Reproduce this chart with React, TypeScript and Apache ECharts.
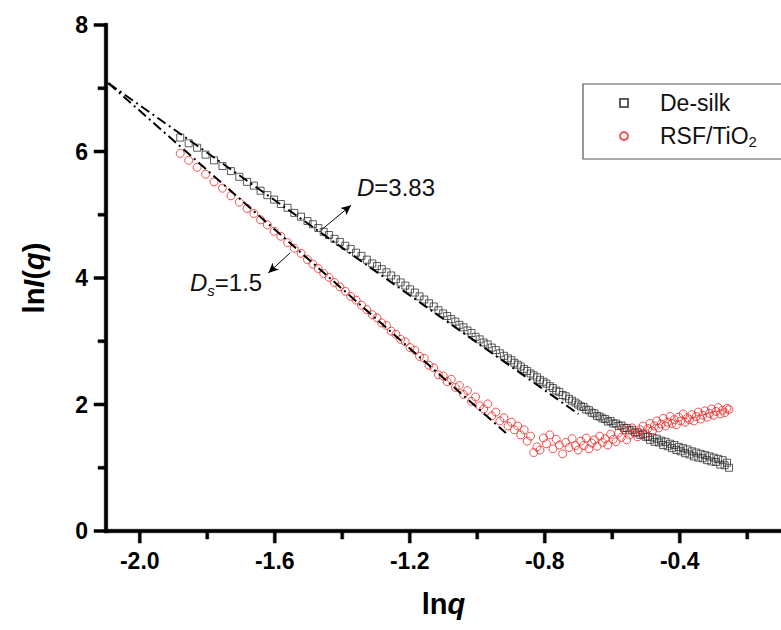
import React, { useEffect, useRef } from "react";
import * as echarts from "echarts";

// ln q grid (shared by both samples)
const lnq = [
  -1.880, -1.855, -1.830, -1.805, -1.780, -1.755, -1.730, -1.705,
  -1.682, -1.662, -1.642, -1.622, -1.602, -1.582, -1.562, -1.542, -1.522, -1.503,
  -1.487, -1.471, -1.455, -1.439, -1.423, -1.407, -1.391, -1.375, -1.359, -1.343, -1.327, -1.311,
  -1.297, -1.283, -1.269, -1.255, -1.241, -1.227, -1.213, -1.199, -1.185, -1.171, -1.157, -1.143, -1.129, -1.115, -1.101,
  -1.089, -1.077, -1.065, -1.053, -1.041, -1.029, -1.017, -1.005, -0.993, -0.981, -0.969, -0.957, -0.945, -0.933, -0.921, -0.909,
  -0.899, -0.890, -0.880, -0.871, -0.861, -0.852, -0.842, -0.833, -0.823, -0.814, -0.804, -0.795, -0.785, -0.776, -0.766, -0.757, -0.747, -0.738, -0.728, -0.719, -0.709,
  -0.701, -0.693, -0.685, -0.677, -0.669, -0.661, -0.653, -0.645, -0.637, -0.629, -0.621, -0.613, -0.605, -0.597, -0.589, -0.581, -0.573, -0.565, -0.557, -0.549, -0.541, -0.533, -0.525, -0.517, -0.509, -0.501,
  -0.494, -0.488, -0.481, -0.475, -0.468, -0.462, -0.455, -0.449, -0.442, -0.436, -0.429, -0.423, -0.416, -0.410, -0.403, -0.397, -0.390, -0.384, -0.377, -0.371, -0.364, -0.358, -0.351, -0.345, -0.338, -0.332, -0.325, -0.319, -0.312, -0.306, -0.299, -0.293, -0.286, -0.280, -0.273, -0.267, -0.260, -0.254,
];

// ln I(q) of De-silk
const deSilk = [
  6.22, 6.13, 6.06, 5.95, 5.86, 5.77, 5.69, 5.60,
  5.52, 5.46, 5.38, 5.31, 5.24, 5.17, 5.11, 5.03, 4.97, 4.90,
  4.85, 4.79, 4.73, 4.68, 4.62, 4.57, 4.51, 4.46, 4.40, 4.35, 4.29, 4.23,
  4.19, 4.14, 4.09, 4.04, 3.98, 3.93, 3.88, 3.82, 3.77, 3.71, 3.66, 3.60, 3.55, 3.49, 3.44,
  3.40, 3.35, 3.31, 3.26, 3.22, 3.17, 3.13, 3.07, 3.03, 2.98, 2.95, 2.90, 2.86, 2.81, 2.77, 2.73,
  2.70, 2.66, 2.63, 2.60, 2.56, 2.53, 2.49, 2.46, 2.43, 2.39, 2.36, 2.33, 2.29, 2.26, 2.22, 2.20, 2.15, 2.13, 2.09, 2.06, 2.03,
  2.00, 1.97, 1.96, 1.92, 1.91, 1.87, 1.86, 1.82, 1.81, 1.78, 1.77, 1.73, 1.74, 1.70, 1.70, 1.66, 1.67, 1.63, 1.63, 1.59, 1.60, 1.56, 1.56, 1.52, 1.53, 1.49,
  1.49, 1.44, 1.48, 1.41, 1.46, 1.40, 1.43, 1.36, 1.41, 1.34, 1.38, 1.31, 1.36, 1.28, 1.33, 1.26, 1.31, 1.23, 1.29, 1.21, 1.26, 1.18, 1.24, 1.16, 1.22, 1.15, 1.20, 1.12, 1.18, 1.10, 1.16, 1.09, 1.14, 1.05, 1.12, 1.04, 1.08, 1.00,
];

// ln I(q) of RSF/TiO2
const rsfTiO2 = [
  5.97, 5.86, 5.75, 5.64, 5.52, 5.42, 5.30, 5.20,
  5.10, 5.02, 4.92, 4.84, 4.74, 4.66, 4.56, 4.47, 4.39, 4.29,
  4.22, 4.15, 4.07, 4.01, 3.93, 3.86, 3.79, 3.71, 3.65, 3.57, 3.50, 3.42,
  3.37, 3.29, 3.25, 3.16, 3.11, 3.03, 2.99, 2.90, 2.86, 2.76, 2.73, 2.62, 2.58, 2.47, 2.45,
  2.36, 2.40, 2.27, 2.30, 2.16, 2.22, 2.05, 2.12, 1.98, 1.93, 2.01, 1.82, 1.88, 1.74, 1.79, 1.66,
  1.72, 1.60, 1.66, 1.52, 1.60, 1.42, 1.50, 1.24, 1.33, 1.28, 1.47, 1.38, 1.52, 1.30, 1.45, 1.36, 1.22, 1.40, 1.32, 1.46, 1.35,
  1.28, 1.42, 1.35, 1.47, 1.30, 1.39, 1.44, 1.34, 1.50, 1.40, 1.46, 1.36, 1.53, 1.45, 1.41, 1.55, 1.48, 1.60, 1.44, 1.52, 1.63, 1.55, 1.49, 1.60, 1.66, 1.54,
  1.62, 1.70, 1.58, 1.66, 1.74, 1.63, 1.69, 1.78, 1.66, 1.72, 1.81, 1.70, 1.76, 1.68, 1.80, 1.74, 1.85, 1.72, 1.79, 1.76, 1.84, 1.74, 1.81, 1.88, 1.77, 1.83, 1.90, 1.80, 1.86, 1.93, 1.83, 1.89, 1.95, 1.85, 1.91, 1.87, 1.94, 1.92,
];

// fitted straight lines (end points)
const fitDeSilk = [[-2.093, 7.08], [-0.70, 1.85]];
const fitRsf = [[-2.093, 7.08], [-0.915, 1.55]];

// annotation arrows: [from, to]
const arrowD = [[-1.462, 4.76], [-1.374, 5.15]];
const arrowDs = [[-1.554, 4.40], [-1.619, 4.08]];

// axis ranges and ticks
const X_MIN = -2.1;
const X_MAX = -0.1;
const Y_MIN = 0;
const Y_MAX = 8;
const xMajorTicks = [-2.0, -1.6, -1.2, -0.8, -0.4];
const xMinorTicks = [-1.8, -1.4, -1.0, -0.6, -0.2];
const yMajorTicks = [0, 2, 4, 6, 8];
const yMinorTicks = [1, 3, 5, 7];

const FONT = "'Liberation Sans', Arial, Helvetica, sans-serif";

export default function App() {
  const ref = useRef<HTMLDivElement>(null);

  useEffect(() => {
    if (!ref.current) return;
    const chart = echarts.init(ref.current, null, { renderer: "svg" });

    const texts: any[] = [
      {
        type: "text",
        left: 357,
        top: 175,
        z: 10,
        style: {
          text: "{i|D}{n|=3.83}",
          rich: {
            i: { fontFamily: FONT, fontSize: 24, fontStyle: "italic", fill: "#111" },
            n: { fontFamily: FONT, fontSize: 24, fill: "#111" },
          },
        },
      },
      {
        type: "text",
        left: 190,
        top: 269,
        z: 10,
        style: {
          text: "{i|D}{s|s}{n|=1.5}",
          rich: {
            i: { fontFamily: FONT, fontSize: 24, fontStyle: "italic", fill: "#111", lineHeight: 28, verticalAlign: "top" },
            s: { fontFamily: FONT, fontSize: 15, fontStyle: "italic", fill: "#111", lineHeight: 28, verticalAlign: "bottom", padding: [14, 0, 0, 0] },
            n: { fontFamily: FONT, fontSize: 24, fill: "#111", lineHeight: 28, verticalAlign: "top" },
          },
        },
      },
    ];

    const option: any = {
      animation: false,
      backgroundColor: "#ffffff",
      textStyle: { fontFamily: FONT },
      grid: { left: 106, top: 25, width: 678, height: 506 },
      legend: {
        data: ["De-silk", "RSF/TiO2"],
        orient: "vertical",
        left: 583,
        top: 84,
        itemWidth: 8,
        itemHeight: 8,
        itemGap: 6,
        padding: [6, 50, 10, 36],
        borderColor: "#555",
        borderWidth: 1.2,
        textStyle: {
          fontFamily: FONT,
          fontSize: 23,
          lineHeight: 26,
          color: "#111",
          rich: {
            p: { width: 27, fontSize: 23, lineHeight: 26 },
            t: { fontFamily: FONT, fontSize: 23, lineHeight: 26, color: "#111" },
            sub: { fontFamily: FONT, fontSize: 15, lineHeight: 26, verticalAlign: "bottom", padding: [12, 0, 0, 0], color: "#111" },
          },
        },
        formatter: (name: string) =>
          name === "RSF/TiO2" ? "{p| }{t|RSF/TiO}{sub|2}" : "{p| }{t|" + name + "}",
      },
      xAxis: {
        type: "value",
        min: X_MIN,
        max: X_MAX,
        name: "{b|ln}{bi|q}",
        nameLocation: "middle",
        nameGap: 58,
        nameTextStyle: {
          rich: {
            b: { fontFamily: FONT, fontSize: 29, fontWeight: "bold", color: "#000" },
            bi: { fontFamily: FONT, fontSize: 29, fontWeight: "bold", fontStyle: "italic", color: "#000" },
          },
        },
        axisLine: { show: false },
        axisTick: { show: false },
        axisLabel: {
          customValues: xMajorTicks,
          margin: 18,
          fontFamily: FONT,
          fontSize: 23,
          fontWeight: "bold",
          color: "#000",
          formatter: (v: number) => v.toFixed(1),
        },
        splitLine: { show: false },
      },
      yAxis: {
        type: "value",
        min: Y_MIN,
        max: Y_MAX,
        interval: 2,
        name: "{b|ln}{bi|I}{b|(}{bi|q}{b|)}",
        nameLocation: "middle",
        nameRotate: 90,
        nameGap: 58,
        nameTextStyle: {
          rich: {
            b: { fontFamily: FONT, fontSize: 29, fontWeight: "bold", color: "#000" },
            bi: { fontFamily: FONT, fontSize: 29, fontWeight: "bold", fontStyle: "italic", color: "#000" },
          },
        },
        axisLine: { show: false },
        axisTick: { show: false },
        minorTick: { show: false },
        axisLabel: { margin: 18, fontFamily: FONT, fontSize: 23, fontWeight: "bold", color: "#000" },
        splitLine: { show: false },
        minorSplitLine: { show: false },
      },
      series: [
        {
          name: "De-silk",
          type: "scatter",
          symbol: "rect",
          symbolSize: 7,
          data: lnq.map((x, i) => [x, deSilk[i]]),
          itemStyle: { color: "rgba(0,0,0,0)", borderColor: "#333333", borderWidth: 1 },
          z: 2,
        },
        {
          name: "RSF/TiO2",
          type: "scatter",
          symbol: "circle",
          symbolSize: 8,
          data: lnq.map((x, i) => [x, rsfTiO2[i]]),
          itemStyle: { color: "rgba(0,0,0,0)", borderColor: "#f02828", borderWidth: 1 },
          z: 2,
        },
        {
          name: "fit De-silk",
          type: "line",
          data: fitDeSilk,
          symbol: "none",
          lineStyle: { color: "#000", width: 2, type: [10, 4, 2, 4] },
          z: 3,
          markLine: {
            silent: true,
            symbol: ["none", "arrow"],
            symbolSize: [7, 10],
            label: { show: false },
            lineStyle: { color: "#000", width: 1, type: "solid" },
            data: [[{ coord: arrowD[0] }, { coord: arrowD[1] }]],
          },
        },
        {
          name: "fit RSF/TiO2",
          type: "line",
          data: fitRsf,
          symbol: "none",
          lineStyle: { color: "#000", width: 2, type: [10, 4, 2, 4] },
          z: 3,
          markLine: {
            silent: true,
            symbol: ["none", "arrow"],
            symbolSize: [7, 10],
            label: { show: false },
            lineStyle: { color: "#000", width: 1, type: "solid" },
            data: [[{ coord: arrowDs[0] }, { coord: arrowDs[1] }]],
          },
        },
      ],
      graphic: texts,
    };

    chart.setOption(option);

    // axis lines and tick marks as filled bars, placed through the chart's own scales
    const px = (x: number, y: number) => chart.convertToPixel({ gridIndex: 0 }, [x, y]) as number[];
    const bar = (x: number, y: number, w: number, h: number) => ({
      type: "rect",
      z: 20,
      silent: true,
      shape: { x, y, width: w, height: h },
      style: { fill: "#000", stroke: "#000", lineWidth: 0.5 },
    });
    const o = px(X_MIN, Y_MIN);
    const xr = px(X_MAX, Y_MIN);
    const yt = px(X_MIN, Y_MAX);
    const W = 3.5; // line thickness
    const T = 3; // tick thickness
    const marks: any[] = [];
    marks.push(bar(o[0] - W / 2, o[1] - W / 2, xr[0] - o[0] + W, W)); // x axis line
    marks.push(bar(o[0] - W / 2, yt[1] - W / 2, W, o[1] - yt[1] + W)); // y axis line
    xMajorTicks.forEach((v) => {
      const p = px(v, Y_MIN);
      marks.push(bar(p[0] - T / 2, p[1], T, 12));
    });
    xMinorTicks.forEach((v) => {
      const p = px(v, Y_MIN);
      marks.push(bar(p[0] - T / 2, p[1], T, 8));
    });
    yMajorTicks.forEach((v) => {
      const p = px(X_MIN, v);
      marks.push(bar(p[0] - 12, p[1] - T / 2, 12, T));
    });
    yMinorTicks.forEach((v) => {
      const p = px(X_MIN, v);
      marks.push(bar(p[0] - 8, p[1] - T / 2, 8, T));
    });

    chart.setOption({ graphic: [...texts, ...marks] });

    return () => chart.dispose();
  }, []);

  return (
    <div
      ref={ref}
      style={{ position: "fixed", left: 0, top: 0, width: 781, height: 630, background: "#fff" }}
    />
  );
}
